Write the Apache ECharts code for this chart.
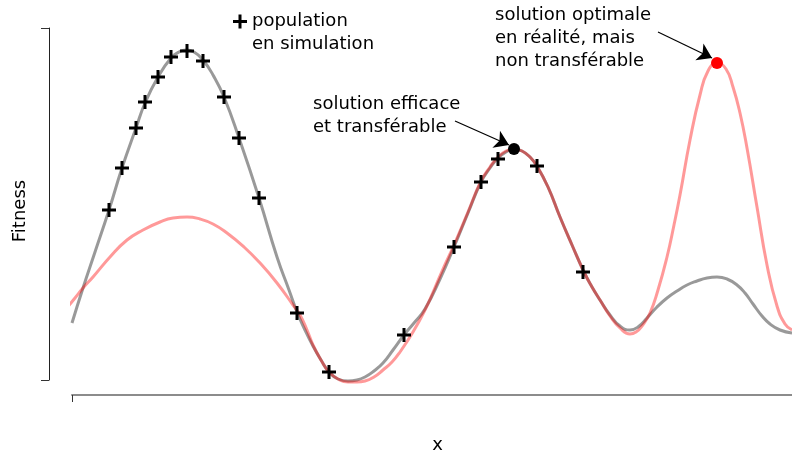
<!DOCTYPE html>
<html>
<head>
<meta charset="utf-8">
<script src="https://cdn.jsdelivr.net/npm/echarts@6/dist/echarts.min.js"></script>
<style>html,body{margin:0;padding:0;background:#fff}#c{width:792px;height:454px}</style>
</head>
<body>
<div id="c"></div>
<script>
// Simulation fitness curve (grey)
const simX = [0,11,23,37,50,64,73,86,99,107,114,122,131,141,152,167,187,205,217,225,233,241,249,257,266,276,285,293,302,311,321,332,342,353,368,382,396,409,418,426,434,442,450,458,465,476,488,500,512,520,528,538,548,558,566,575,585,595,605,615,625,635,645,655,665,673,681,690,698,708,720];
const simY = [57,92,128,170,212,252,277,303,322,328,330,328,320,305,283,242,182,123,90,68,50,34,20,8,1,-1,0,3,9,17,30,45,57,71,101,133,167,198,212,222,228,231,229,223,214,193,163,135,108,93,80,65,54,50,53,62,73,82,89,95,99,102,103,101,95,87,76,64,56,50,47];
// Real fitness curve (pink)
const realX = [-6,3,11,21,38,55,71,88,101,115,128,141,155,172,188,205,221,228,235,241,249,257,266,276,285,293,302,311,320,328,341,353,362,371,382,396,409,418,426,434,442,450,458,465,476,488,500,512,520,528,538,548,558,564,570,578,586,595,602,608,618,628,636,645,654,661,668,675,685,695,705,713,720];
const realY = [71,82,92,103,123,140,150,158,162,163,161,156,147,133,117,97,75,65,50,35,20,8,1,-2,-2,-1,3,10,18,28,48,70,90,111,135,168,199,213,223,229,231,229,223,214,193,163,135,108,93,80,64,52,46,48,54,67,90,123,155,185,240,285,309,317,311,293,267,232,173,115,74,56,50];
// Population in simulation (crosses)
const popX = [37,50,64,73,86,99,115,131,152,167,187,225,257,332,382,409,426,465,511];
const popY = [170,212,252,278,303,323,329,319,283,242,182,67,8,45,133,198,221,214,108];
// Highlighted solutions
const efficientPt = [442,231];
const optimalPt = [645,317];
// Annotation arrows: [from, to]
const arrowEfficient = [[383,259],[437,235]];
const arrowOptimal = [[586,348],[640,322]];
const popName = 'population en simulation';

const zip = (xs, ys) => xs.map((x, i) => [x, ys[i]]);
const FONT = 'DejaVu Sans';
const plus = 'path://M5.5,0 H8.5 V5.5 H14 V8.5 H8.5 V14 H5.5 V8.5 H0 V5.5 H5.5 Z';

const chart = echarts.init(document.getElementById('c'), null, {renderer: 'canvas'});
chart.setOption({
  animation: false,
  backgroundColor: '#fff',
  textStyle: {fontFamily: FONT},
  grid: {left: 72, width: 728, top: 28, height: 352, containLabel: false, outerBoundsMode: 'none'},
  legend: {
    data: [popName],
    left: 233, top: -13, padding: 0,
    itemWidth: 14, itemHeight: 14, itemGap: 0, itemStyle: {borderWidth: 0},
    textStyle: {fontFamily: FONT, fontSize: 18, color: '#000', lineHeight: 23},
    formatter: () => '\npopulation\nen simulation',
    selectedMode: false
  },
  xAxis: {
    type: 'value', min: 0, max: 728, interval: 1000, offset: 15,
    name: 'x', nameLocation: 'middle', nameGap: 41,
    nameTextStyle: {fontFamily: FONT, fontSize: 18, color: '#000', padding: [0,0,0,3]},
    axisLine: {show: true, onZero: false, lineStyle: {color: '#8c8c8c', width: 2}},
    axisTick: {show: true, length: 7, lineStyle: {color: '#333', width: 1}},
    axisLabel: {show: false}, splitLine: {show: false}
  },
  yAxis: {
    type: 'value', min: 0, max: 352, interval: 352, offset: 23,
    name: 'Fitness', nameLocation: 'middle', nameGap: 20,
    nameTextStyle: {fontFamily: FONT, fontSize: 18, color: '#000', padding: [0,14,0,0]},
    axisLine: {show: true, onZero: false, lineStyle: {color: '#222', width: 1}},
    axisTick: {show: true, length: 8, lineStyle: {color: '#333', width: 1}},
    axisLabel: {show: false}, splitLine: {show: false}
  },
  series: [
    {name: 'simulation', type: 'line', data: zip(simX, simY), smooth: 0.5, showSymbol: false, clip: false,
     lineStyle: {color: 'rgba(0,0,0,0.4)', width: 3}, itemStyle: {color: 'rgba(0,0,0,0.4)'}, z: 2, silent: true},
    {name: 'réalité', type: 'line', data: zip(realX, realY), smooth: 0.5, showSymbol: false, clip: false,
     lineStyle: {color: 'rgba(255,0,0,0.4)', width: 3}, itemStyle: {color: 'rgba(255,0,0,0.4)'}, z: 3, silent: true},
    {name: popName, type: 'scatter', data: zip(popX, popY), symbol: plus, symbolSize: 14, clip: false,
     itemStyle: {color: '#000', opacity: 1}, z: 5, silent: true},
    {name: 'solution efficace', type: 'scatter', data: [efficientPt], symbolSize: 12, clip: false,
     itemStyle: {color: '#000', opacity: 1}, z: 6, silent: true,
     markLine: {silent: true, symbol: ['none','arrow'], symbolSize: 14, label: {show: false},
       lineStyle: {color: '#000', width: 1.2, type: 'solid'},
       data: [[{coord: arrowEfficient[0]}, {coord: arrowEfficient[1]}]]}},
    {name: 'solution optimale', type: 'scatter', data: [optimalPt], symbolSize: 12, clip: false,
     itemStyle: {color: '#ff0000', opacity: 1}, z: 6, silent: true,
     markLine: {silent: true, symbol: ['none','arrow'], symbolSize: 14, label: {show: false},
       lineStyle: {color: '#000', width: 1.2, type: 'solid'},
       data: [[{coord: arrowOptimal[0]}, {coord: arrowOptimal[1]}]]}}
  ],
  graphic: [
    {type: 'text', left: 313, top: 92.5, silent: true,
     style: {text: 'solution efficace\net transférable', font: '18px "DejaVu Sans"', lineHeight: 23, fill: '#000'}},
    {type: 'text', left: 495, top: 3.5, silent: true,
     style: {text: 'solution optimale\nen réalité, mais\nnon transférable', font: '18px "DejaVu Sans"', lineHeight: 23, fill: '#000'}}
  ]
});
</script>
</body>
</html>
